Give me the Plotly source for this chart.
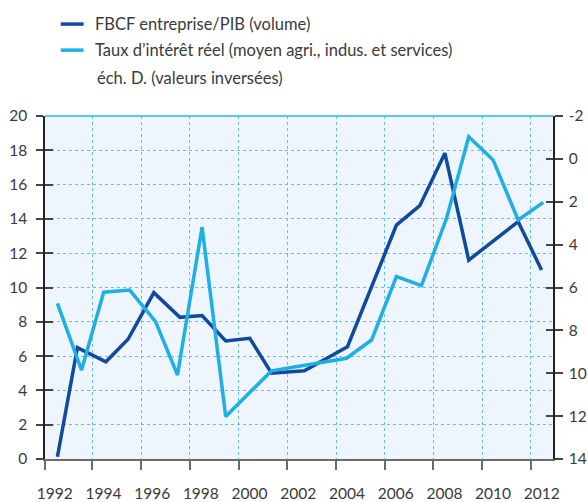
import plotly.graph_objects as go

# ---- data ----
fbcf_years = [1992.56, 1993.38, 1994.55, 1995.46, 1996.52, 1997.59, 1998.50, 1999.47,
              2000.46, 2001.35, 2002.70, 2004.47, 2006.48, 2007.44, 2008.47, 2009.45,
              2011.48, 2012.44]
fbcf_values = [0.13, 6.49, 5.67, 6.98, 9.70, 8.26, 8.36, 6.88,
               7.04, 5.00, 5.15, 6.55, 13.64, 14.77, 17.83, 11.60,
               13.84, 11.02]

taux_years = [1992.56, 1993.55, 1994.46, 1995.53, 1996.59, 1997.49, 1998.50, 1999.47,
              2001.35, 2004.43, 2005.46, 2006.48, 2007.51, 2008.54, 2009.45, 2010.45,
              2011.48, 2012.51]
taux_values = [6.74, 9.85, 6.22, 6.12, 7.59, 10.08, 3.19, 12.02,
               9.89, 9.30, 8.45, 5.49, 5.91, 2.77, -1.03, 0.05,
               2.85, 2.03]

year_labels = ["1992", "1994", "1996", "1998", "2000", "2002", "2004", "2006", "2008", "2010", "2012"]
left_ticks = [0, 2, 4, 6, 8, 10, 12, 14, 16, 18, 20]
right_ticks = [-2, 0, 2, 4, 6, 8, 10, 12, 14]

legend_names = ["FBCF entreprise/PIB (volume)",
                "Taux d\u2019intérêt réel (moyen agri., indus. et services)",
                "éch. D. (valeurs inversées)"]

DARK = "#0F4A9C"
LIGHT = "#1FAFE4"
GRID = "#5EC2EE"
TEXT = "#3A3A3A"
FONT = "Lato"
LEG_SIZE = 16.5
TICK_SIZE = 15.5

fig = go.Figure()
fig.add_trace(go.Scatter(x=fbcf_years, y=fbcf_values, mode="lines",
                         line=dict(color=DARK, width=3.5), yaxis="y", name=legend_names[0]))
fig.add_trace(go.Scatter(x=taux_years, y=taux_values, mode="lines",
                         line=dict(color=LIGHT, width=3.5), yaxis="y2", name=legend_names[1]))

label_pos = [int(y) + 0.45 for y in year_labels]
grid_pos = [1992.06] + [int(y) for y in year_labels[1:]]

fig.update_layout(
    width=588, height=502,
    margin=dict(l=45, r=35, t=116, b=43, autoexpand=False),
    paper_bgcolor="white",
    plot_bgcolor="#EEF5FC",
    showlegend=False,
    font=dict(family=FONT, size=TICK_SIZE, color=TEXT),
    xaxis=dict(
        range=[1992.05, 2012.91], automargin=False,
        tickmode="array", tickvals=label_pos, ticktext=year_labels,
        ticks="outside", ticklen=9, tickcolor="rgba(0,0,0,0)",
        ticklabelstandoff=11,
        showgrid=False, zeroline=False,
        showline=True, linecolor="#6A6A6A", linewidth=1.5,
        minor=dict(tickmode="array", tickvals=grid_pos, ticks="outside", ticklen=9,
                   tickcolor="#6A6A6A", tickwidth=1.5,
                   showgrid=True, gridcolor=GRID, griddash="dot", gridwidth=1),
        tickfont=dict(family=FONT, size=TICK_SIZE, color=TEXT),
    ),
    yaxis=dict(
        range=[0, 20], tickmode="array", tickvals=left_ticks, automargin=False,
        ticks="outside", ticklen=7, tickcolor="#444", tickwidth=1.5,
        showgrid=True, gridcolor=GRID, griddash="dot", gridwidth=1,
        zeroline=False, showline=True, linecolor="#222", linewidth=1.5,
        ticklabelstandoff=6,
        tickfont=dict(family=FONT, size=TICK_SIZE, color=TEXT),
    ),
    yaxis2=dict(
        overlaying="y", side="right", range=[14, -2], automargin=False,
        tickmode="array", tickvals=right_ticks, ticktext=[str(v) for v in right_ticks],
        ticks="outside", ticklen=8, tickcolor="#444", tickwidth=1.5,
        showgrid=False, zeroline=False, showline=True, linecolor="#222", linewidth=1.5,
        ticklabelstandoff=3,
        tickfont=dict(family=FONT, size=TICK_SIZE, color=TEXT),
    ),
    yaxis3=dict(
        overlaying="y", side="left", range=[0, 20], tickmode="array", tickvals=left_ticks,
        automargin=False,
        ticks="inside", ticklen=8, tickcolor="#444", tickwidth=1.5,
        showticklabels=False, showgrid=False, zeroline=False, showline=False,
    ),
    yaxis4=dict(
        overlaying="y", side="right", range=[14, -2], tickmode="array", tickvals=right_ticks,
        automargin=False,
        ticks="inside", ticklen=7, tickcolor="#444", tickwidth=1.5,
        showticklabels=False, showgrid=False, zeroline=False, showline=False,
    ),
)

# invisible traces to activate the tick-stub axes
fig.add_trace(go.Scatter(x=[None], y=[None], yaxis="y3", showlegend=False, hoverinfo="skip"))
fig.add_trace(go.Scatter(x=[None], y=[None], yaxis="y4", showlegend=False, hoverinfo="skip"))

# top border of plot area
fig.add_shape(type="line", xref="paper", yref="paper", x0=0, x1=1, y0=1, y1=1,
              line=dict(color="#2BB4E8", width=1.5))

# legend (drawn manually for exact placement)
leg_rows = [(1.268, DARK, legend_names[0]), (1.192, LIGHT, legend_names[1])]
for yy, col, name in leg_rows:
    fig.add_shape(type="line", xref="paper", yref="paper", x0=0.031, x1=0.076, y0=yy, y1=yy,
                  line=dict(color=col, width=3.5))
    fig.add_annotation(xref="paper", yref="paper", x=0.0939, y=yy, xanchor="left", yanchor="middle",
                       text=name, showarrow=False, font=dict(family=FONT, size=LEG_SIZE, color=TEXT))
fig.add_annotation(xref="paper", yref="paper", x=0.0992, y=1.111, xanchor="left", yanchor="middle",
                   text=legend_names[2], showarrow=False, font=dict(family=FONT, size=LEG_SIZE, color=TEXT))

fig.write_html("out.html",
               config={"displayModeBar": False},
               post_script="document.body.style.margin='0';document.body.style.padding='0';")
